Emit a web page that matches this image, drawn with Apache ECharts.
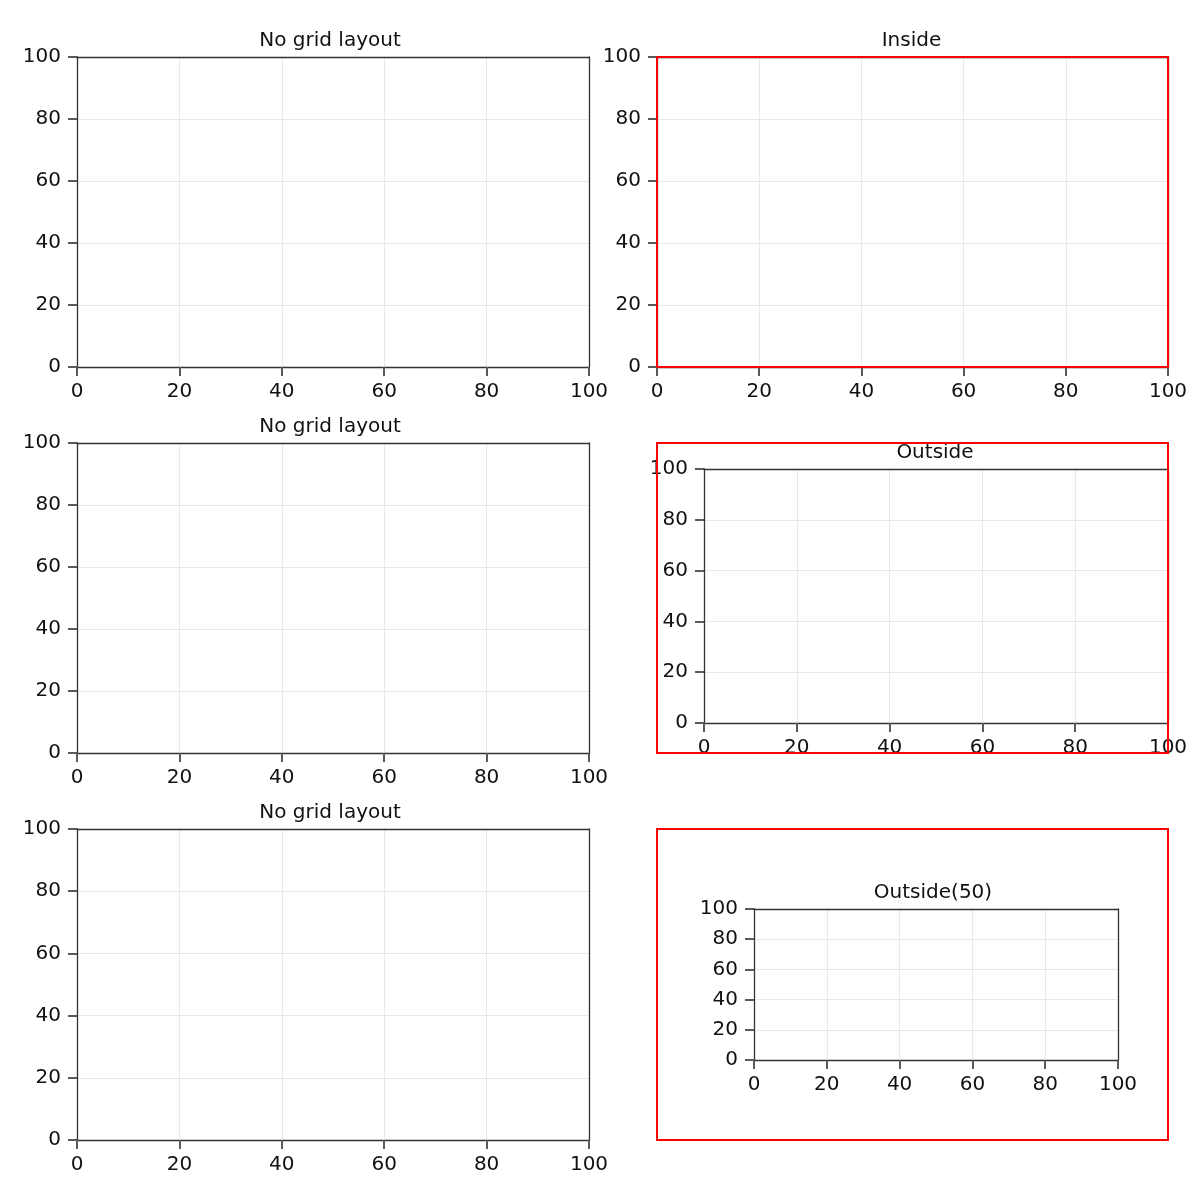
<!DOCTYPE html>
<html>
<head>
<meta charset="utf-8">
<script src="https://cdn.jsdelivr.net/npm/echarts@6/dist/echarts.min.js"></script>
<style>html,body{margin:0;padding:0;background:#fff}#c{width:1200px;height:1200px}</style>
</head>
<body>
<div id="c"></div>
<script>
// Data
const panelTitles = ['No grid layout', 'Inside', 'No grid layout', 'Outside', 'No grid layout', 'Outside(50)'];
const axisMin = 0;
const axisMax = 100;
const tickStep = 20;
const tickLabels = [0, 20, 40, 60, 80, 100];
const seriesValues = [[], [], [], [], [], []];
const framed = [false, true, false, true, false, true];

// Layout (pixels)
const grids = [
  {left: 77, top: 57, width: 512, height: 310},
  {left: 657, top: 57, width: 511, height: 310},
  {left: 77, top: 443, width: 512, height: 310},
  {left: 704, top: 469, width: 464, height: 254},
  {left: 77, top: 829, width: 512, height: 311},
  {left: 754, top: 909, width: 364, height: 151}
];
const titleShift = [-3, -1, -3, -1, -3, -3];
const frames = [
  null,
  {x: 657, y: 57, width: 511, height: 310},
  null,
  {x: 657, y: 443, width: 511, height: 310},
  null,
  {x: 657, y: 829, width: 511, height: 311}
];

const FONT = 'DejaVu Sans';
const axisBase = (idx, isX) => ({
  type: 'value',
  gridIndex: idx,
  min: axisMin,
  max: axisMax,
  interval: tickStep,
  z: 3,
  axisLine: {show: true, onZero: false, lineStyle: {color: '#333', width: 1.3}},
  axisTick: {show: true, length: 9, lineStyle: {color: '#5a5a5a', width: 2}},
  axisLabel: {
    show: true, color: '#111', fontSize: 20, fontFamily: FONT,
    margin: isX ? 15 : 16,
    padding: isX ? 0 : [4, 0, 0, 0],
    showMinLabel: true, showMaxLabel: true,
    formatter: v => tickLabels.includes(v) ? String(v) : ''
  },
  splitLine: {show: true, lineStyle: {color: '#e8e8e8', width: 1}}
});
const axisFrame = (idx, pos) => ({
  type: 'value',
  gridIndex: idx,
  position: pos,
  min: axisMin,
  max: axisMax,
  interval: tickStep,
  z: 4,
  axisLine: {show: true, onZero: false, lineStyle: {color: '#333', width: 1.3}},
  axisTick: {show: false},
  axisLabel: {show: false},
  splitLine: {show: false}
});

const xAxes = [], yAxes = [];
grids.forEach((g, i) => {
  xAxes.push(axisBase(i, true));
  yAxes.push(axisBase(i, false));
});
grids.forEach((g, i) => {
  xAxes.push(axisFrame(i, 'top'));
  yAxes.push(axisFrame(i, 'right'));
});

const option = {
  animation: false,
  backgroundColor: '#fff',
  textStyle: {fontFamily: FONT},
  title: grids.map((g, i) => ({
    text: panelTitles[i],
    left: g.left + g.width / 2 + titleShift[i],
    top: g.top - 26,
    textAlign: 'center',
    padding: 0,
    textStyle: {fontSize: 20, fontWeight: 'normal', color: '#111', fontFamily: FONT}
  })),
  grid: grids.map(g => ({
    left: g.left, top: g.top, width: g.width, height: g.height,
    show: false, containLabel: false
  })),
  xAxis: xAxes,
  yAxis: yAxes,
  series: grids.map((g, i) => ({
    type: 'line', xAxisIndex: i, yAxisIndex: i, data: seriesValues[i], silent: true
  })),
  graphic: frames.map((f, i) => f && framed[i] ? {
    type: 'rect', z: 100,
    shape: {x: f.x, y: f.y, width: f.width, height: f.height},
    style: {fill: 'none', stroke: '#ff0000', lineWidth: 2}
  } : null).filter(Boolean)
};

const chart = echarts.init(document.getElementById('c'), null, {renderer: 'canvas'});
chart.setOption(option);
</script>
</body>
</html>
